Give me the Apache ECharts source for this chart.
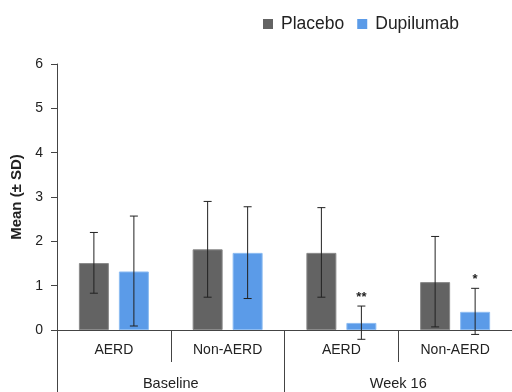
<!DOCTYPE html>
<html><head><meta charset="utf-8">
<script src="https://cdn.jsdelivr.net/npm/echarts@6/dist/echarts.min.js"></script>
<style>html,body{margin:0;padding:0;background:#fff}#c{width:512px;height:392px}</style>
</head><body><div id="c"></div>
<script>
const groups = ['AERD', 'Non-AERD', 'AERD', 'Non-AERD'];
const periods = ['Baseline', 'Week 16'];
const placeboMean = [1.51, 1.82, 1.74, 1.08];
const placeboLow = [0.83, 0.74, 0.74, 0.07];
const placeboHigh = [2.2, 2.9, 2.76, 2.11];
const dupiMean = [1.32, 1.74, 0.16, 0.41];
const dupiLow = [0.09, 0.71, -0.21, -0.1];
const dupiHigh = [2.57, 2.78, 0.54, 0.94];
const dupiSig = ['', '', '**', '*'];
const placeboSig = ['', '', '', ''];

const FONT = 'Helvetica, Arial, "Liberation Sans", sans-serif';
const BAR_W = 30, GAP = 10;

function errSeries(name, low, high, sig, side) {
  return {
    type: 'custom', name: name + ' SD', silent: true, z: 5, clip: false,
    data: groups.map((g, i) => [i, low[i], high[i], sig[i]]),
    renderItem: function (params, api) {
      const i = api.value(0);
      const c = api.coord([i, 0]);
      const x = c[0] + side * (BAR_W + GAP) / 2;
      const yl = api.coord([i, api.value(1)])[1];
      const yh = api.coord([i, api.value(2)])[1];
      const st = { stroke: '#222', lineWidth: 1 };
      const ch = [
        { type: 'line', shape: { x1: x, y1: yl, x2: x, y2: yh }, style: st },
        { type: 'line', shape: { x1: x - 4, y1: yl, x2: x + 4, y2: yl }, style: st },
        { type: 'line', shape: { x1: x - 4, y1: yh, x2: x + 4, y2: yh }, style: st }
      ];
      const s = sig[i];
      if (s) ch.push({ type: 'text', style: { text: s, x: x, y: yh - 2, textAlign: 'center', textVerticalAlign: 'bottom', font: 'bold 13px ' + FONT, fill: '#222' } });
      return { type: 'group', children: ch };
    }
  };
}

const chart = echarts.init(document.getElementById('c'));
chart.setOption({
  animation: false,
  textStyle: { fontFamily: FONT },
  legend: {
    data: ['Placebo', 'Dupilumab'], left: 258, top: 10, itemWidth: 10, itemHeight: 10, itemGap: 13,
    icon: 'rect', itemStyle: { borderWidth: 0 },
    textStyle: { fontSize: 17.5, color: '#222', fontFamily: FONT, padding: [0, 0, 0, 3] }
  },
  grid: { left: 57, right: -1, top: 64, bottom: 62, containLabel: false },
  xAxis: [
    {
      type: 'category', data: groups, position: 'bottom',
      axisLine: { lineStyle: { color: '#444', width: 1 } },
      axisTick: { show: true, length: 32, interval: 0, lineStyle: { color: '#444' } },
      axisLabel: { interval: 0, margin: 13, fontSize: 14, color: '#222', fontFamily: FONT }
    },
    {
      type: 'category', data: periods, position: 'bottom', offset: 32,
      axisLine: { show: false },
      axisTick: { show: true, length: 32, interval: 0, lineStyle: { color: '#444' } },
      axisLabel: { interval: 0, margin: 14, fontSize: 14.5, color: '#222', fontFamily: FONT }
    }
  ],
  yAxis: {
    type: 'value', min: 0, max: 6, interval: 1,
    name: 'Mean (± SD)', nameLocation: 'middle', nameGap: 32, nameRotate: 90,
    nameTextStyle: { fontSize: 15, fontWeight: 'bold', color: '#222', fontFamily: FONT },
    axisLine: { show: true, lineStyle: { color: '#444' } },
    axisTick: { show: true, length: 6, lineStyle: { color: '#444' } },
    axisLabel: { fontSize: 14, color: '#222', margin: 14, fontFamily: FONT },
    splitLine: { show: false }
  },
  series: [
    { name: 'Placebo', type: 'bar', data: placeboMean, barWidth: BAR_W, barGap: (GAP / BAR_W * 100) + '%',
      itemStyle: { color: '#636363', borderColor: '#8a8a8a', borderWidth: 1 } },
    { name: 'Dupilumab', type: 'bar', data: dupiMean, barWidth: BAR_W,
      itemStyle: { color: '#5b9be8', borderColor: '#8dbcf2', borderWidth: 1 } },
    errSeries('Placebo', placeboLow, placeboHigh, placeboSig, -1),
    errSeries('Dupilumab', dupiLow, dupiHigh, dupiSig, 1)
  ]
});
</script></body></html>
